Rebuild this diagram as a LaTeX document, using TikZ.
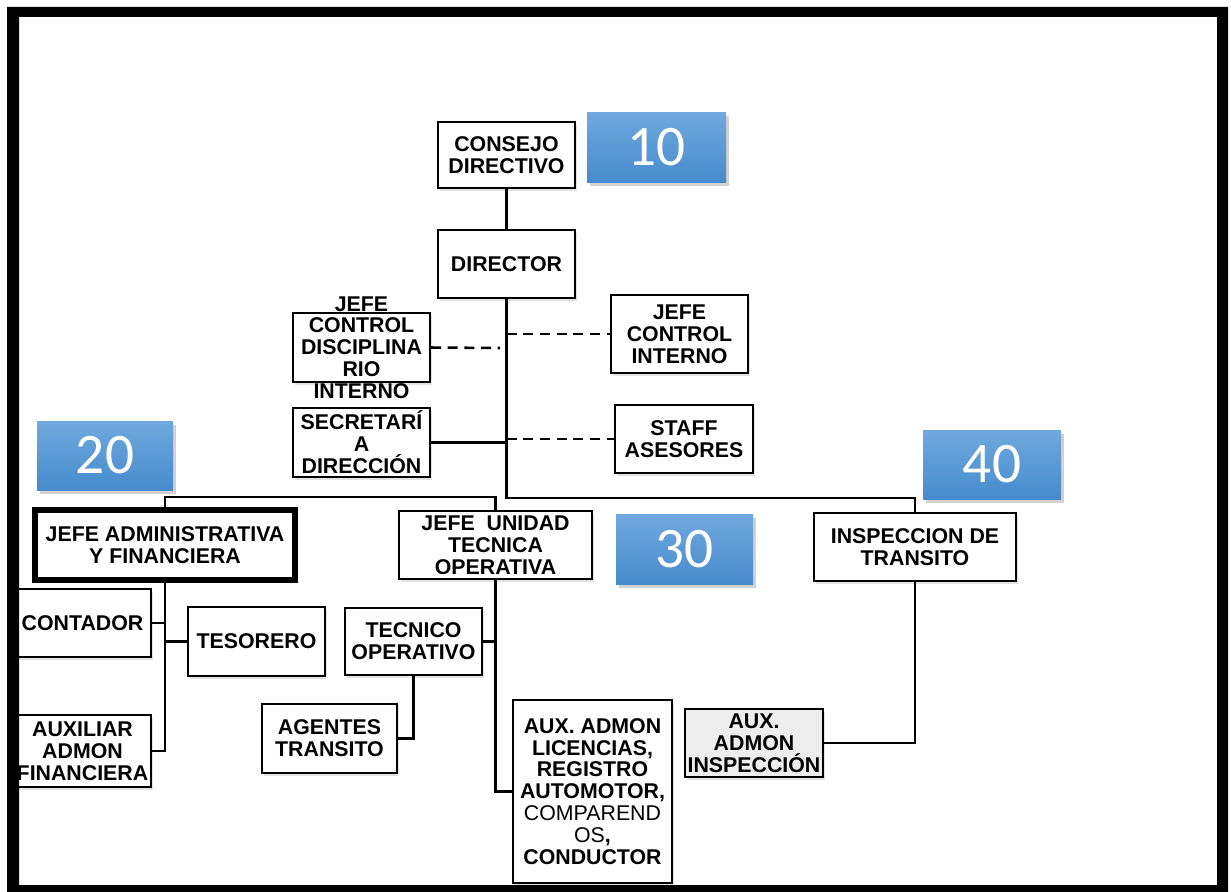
\documentclass[tikz,border=0pt]{standalone}
\usepackage{fontspec}
\setmainfont{Liberation Sans}
\newfontfamily\numfont{Carlito}
\usetikzlibrary{fit,shadows}
\definecolor{numtop}{RGB}{112,169,222}
\definecolor{numbot}{RGB}{70,139,205}
\newcommand\lblfont{\fontsize{16}{16.4}\selectfont\bfseries}
\tikzset{
  box/.style={draw, line width=1.5pt, inner sep=0pt, fill=white,
    drop shadow={shadow xshift=1.5pt, shadow yshift=-2pt, opacity=0.22}},
  thickbox/.style={box, line width=4.6pt},
  lbl/.style={font=\lblfont, align=center, inner sep=0pt},
  numbox/.style={inner sep=0pt, top color=numtop, bottom color=numbot,
    drop shadow={shadow xshift=2pt, shadow yshift=-3pt, opacity=0.35}},
  numtxt/.style={text=white, font=\numfont\fontsize{43}{43}\selectfont, inner sep=0pt},
  con/.style={line width=1.9pt},
  dcon/.style={line width=1.9pt, dash pattern=on 7.5pt off 5pt},
}
\begin{document}
\begin{tikzpicture}[x=0.75pt,y=-0.75pt]
\useasboundingbox (0,0) rectangle (1231,892);
\fill[white] (0,0) rectangle (1231,892);

% boxes
\node[box, fit={(438,122) (575,188)}] (consejo) {};
\node[lbl] (consejo-t) at (consejo.center) {CONSEJO\\DIRECTIVO};
\node[box, fit={(438,230) (575,298)}] (director) {};
\node[lbl] (director-t) at (director.center) {DIRECTOR};
\node[box, fit={(293,313) (430,382)}] (disc) {};
\node[lbl] (disc-t) at (disc.center) {JEFE\\CONTROL\\DISCIPLINA\\RIO\\INTERNO};
\node[box, fit={(611,295) (748,373)}] (ctrl) {};
\node[lbl] (ctrl-t) at (ctrl.center) {JEFE\\CONTROL\\INTERNO};
\node[box, fit={(293,408) (430,477)}] (secr) {};
\node[lbl] (secr-t) at (secr.center) {SECRETARÍ\\A\\DIRECCIÓN};
\node[box, fit={(615,405) (753,473)}] (staff) {};
\node[lbl] (staff-t) at (staff.center) {STAFF\\ASESORES};

\node[thickbox, fit={(35,510) (295,580)}] (jefeadm) {};
\node[lbl] (jefeadm-t) at (jefeadm.center) {JEFE ADMINISTRATIVA\\Y FINANCIERA};
\node[box, fit={(399,511) (592,579)}] (unidad) {};
\node[lbl] (unidad-t) at (unidad.center) {JEFE\ \ UNIDAD\\TECNICA\\OPERATIVA};
\node[box, fit={(814,513) (1016,581)}] (inspec) {};
\node[lbl] (inspec-t) at (inspec.center) {INSPECCION DE\\TRANSITO};

\node[box, fit={(14,589) (151,657)}] (contador) {};
\node[lbl] (contador-t) at (contador.center) {CONTADOR};
\node[box, fit={(188,607) (325,676)}] (tesorero) {};
\node[lbl] (tesorero-t) at (tesorero.center) {TESORERO};
\node[box, fit={(14,715) (151,787)}] (auxfin) {};
\node[lbl] (auxfin-t) at (auxfin.center) {AUXILIAR\\ADMON\\FINANCIERA};

\node[box, fit={(345,608) (482,675)}] (tecnico) {};
\node[lbl] (tecnico-t) at (tecnico.center) {TECNICO\\OPERATIVO};
\node[box, fit={(262,704) (397,773)}] (agentes) {};
\node[lbl] (agentes-t) at (agentes.center) {AGENTES\\TRANSITO};
\node[box, fit={(513,700) (672,883)}] (licencias) {};
\node[lbl] (licencias-t) at (licencias.center) {AUX. ADMON\\LICENCIAS,\\REGISTRO\\AUTOMOTOR,\\\mdseries COMPAREND\\\mdseries OS\textbf{,}\\CONDUCTOR};
\node[box, fill=gray!14, fit={(685,709) (823,777)}] (auxinsp) {};
\node[lbl] (auxinsp-t) at (auxinsp.center) {AUX.\\ADMON\\INSPECCIÓN};

% number boxes
\node[numbox, fit={(587,112) (726,182)}] (n10) {};
\node[numtxt] (n10-t) at (n10.center) {10};
\node[numbox, fit={(37,421) (173,490)}] (n20) {};
\node[numtxt] (n20-t) at (n20.center) {20};
\node[numbox, fit={(616,514) (753,584)}] (n30) {};
\node[numtxt] (n30-t) at (n30.center) {30};
\node[numbox, fit={(923,430) (1061,499)}] (n40) {};
\node[numtxt] (n40-t) at (n40.center) {40};

% junction coordinates
\coordinate (j1) at (507,498);
\coordinate (j2) at (497,497);
\coordinate (d1) at (500,348);

% connectors
\draw[con] (consejo.south) -- (director.north);
\draw[con] (director.south) -- (director.south |- j1) -- (inspec.north |- j1) -- (inspec.north);
\draw[con] (jefeadm.north) -- (jefeadm.north |- j2) -- (unidad.north |- j2) -- (unidad.north);
\draw[dcon] (disc.east) -- (d1);
\draw[dcon] (director.south |- ctrl.west) -- (ctrl.west);
\draw[con] (secr.east) -- (director.south |- secr.east);
\draw[dcon] (director.south |- staff.west) -- (staff.west);

\draw[con] (jefeadm.south) -- (jefeadm.south |- auxfin.east) -- (auxfin.east);
\draw[con] (contador.east) -- (jefeadm.south |- contador.east);
\draw[con] (tesorero.west) -- (jefeadm.south |- tesorero.west);

\draw[con] (unidad.south) -- (unidad.south |- licencias.west) -- (licencias.west);
\draw[con] (tecnico.east) -- (unidad.south |- tecnico.east);
\draw[con] (tecnico.south) -- (tecnico.south |- agentes.east) -- (agentes.east);

\draw[con] (inspec.south) -- (inspec.south |- auxinsp.east) -- (auxinsp.east);

% outer frame
\fill[black, even odd rule] (7,7) rectangle (1228,892) (19,17) rectangle (1217,885);
\end{tikzpicture}
\end{document}
